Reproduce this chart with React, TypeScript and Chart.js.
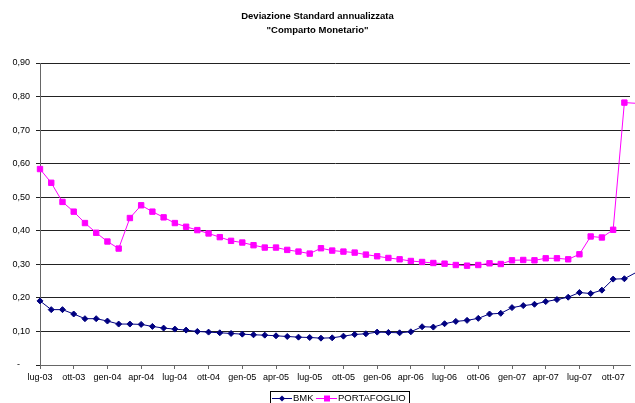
import React, { useEffect, useRef } from "react";
import { Chart, registerables } from "chart.js";

Chart.register(...registerables);

const categories = [
  "lug-03", "ago-03", "set-03", "ott-03", "nov-03", "dic-03",
  "gen-04", "feb-04", "mar-04", "apr-04", "mag-04", "giu-04",
  "lug-04", "ago-04", "set-04", "ott-04", "nov-04", "dic-04",
  "gen-05", "feb-05", "mar-05", "apr-05", "mag-05", "giu-05",
  "lug-05", "ago-05", "set-05", "ott-05", "nov-05", "dic-05",
  "gen-06", "feb-06", "mar-06", "apr-06", "mag-06", "giu-06",
  "lug-06", "ago-06", "set-06", "ott-06", "nov-06", "dic-06",
  "gen-07", "feb-07", "mar-07", "apr-07", "mag-07", "giu-07",
  "lug-07", "ago-07", "set-07", "ott-07", "nov-07", "dic-07",
];

const tickLabels = [
  "lug-03", "ott-03", "gen-04", "apr-04", "lug-04", "ott-04",
  "gen-05", "apr-05", "lug-05", "ott-05", "gen-06", "apr-06",
  "lug-06", "ott-06", "gen-07", "apr-07", "lug-07", "ott-07",
];

const bmk = [
  0.191, 0.165, 0.165, 0.152, 0.138, 0.138, 0.131, 0.122, 0.122, 0.121,
  0.115, 0.110, 0.107, 0.104, 0.100, 0.098, 0.096, 0.094, 0.092, 0.090,
  0.089, 0.087, 0.085, 0.083, 0.082, 0.080, 0.081, 0.086, 0.091, 0.093,
  0.098, 0.097, 0.096, 0.099, 0.114, 0.113, 0.123, 0.130, 0.133, 0.139,
  0.152, 0.154, 0.171, 0.177, 0.181, 0.189, 0.195, 0.202, 0.216, 0.213,
  0.223, 0.256, 0.257, 0.275,
];

const portafoglio = [
  0.584, 0.543, 0.486, 0.457, 0.423, 0.394, 0.368, 0.347, 0.438, 0.476,
  0.457, 0.440, 0.423, 0.412, 0.402, 0.392, 0.381, 0.370, 0.365, 0.357,
  0.350, 0.350, 0.343, 0.338, 0.332, 0.348, 0.341, 0.338, 0.335, 0.329,
  0.324, 0.319, 0.315, 0.310, 0.307, 0.304, 0.302, 0.298, 0.296, 0.298,
  0.303, 0.301, 0.312, 0.313, 0.312, 0.318, 0.318, 0.315, 0.330, 0.383,
  0.380, 0.403, 0.782, 0.780,
];

const titleLines = ["Deviazione Standard annualizzata", '"Comparto Monetario"'];
const seriesNames = ["BMK", "PORTAFOGLIO"];

const FONT = "'Liberation Sans', Arial, sans-serif";
const NAVY = "#000080";
const MAGENTA = "#FF00FF";

const legendPlugin = {
  id: "boxLegend",
  afterDraw(chart: any) {
    const ctx = chart.ctx;
    ctx.save();
    const bx = 270.5, by = 391.5, bw = 139, bh = 15;
    ctx.strokeStyle = "#000";
    ctx.lineWidth = 1;
    ctx.strokeRect(bx, by, bw, bh);
    const cy = 398.5;
    // BMK
    ctx.strokeStyle = NAVY;
    ctx.beginPath();
    ctx.moveTo(272, cy);
    ctx.lineTo(292, cy);
    ctx.stroke();
    ctx.fillStyle = NAVY;
    ctx.beginPath();
    ctx.moveTo(282, cy - 3);
    ctx.lineTo(285, cy);
    ctx.lineTo(282, cy + 3);
    ctx.lineTo(279, cy);
    ctx.closePath();
    ctx.fill();
    // PORTAFOGLIO
    ctx.strokeStyle = MAGENTA;
    ctx.beginPath();
    ctx.moveTo(316, cy);
    ctx.lineTo(337, cy);
    ctx.stroke();
    ctx.fillStyle = MAGENTA;
    ctx.fillRect(324, cy - 3, 6, 6);
    ctx.fillStyle = "#000";
    ctx.font = `9.5px ${FONT}`;
    ctx.textBaseline = "middle";
    ctx.textAlign = "left";
    ctx.fillText(seriesNames[0], 293, cy);
    ctx.fillText(seriesNames[1], 338, cy);
    ctx.restore();
  },
};

export default function App() {
  const ref = useRef<HTMLCanvasElement | null>(null);

  useEffect(() => {
    document.body.style.margin = "0";
    const canvas = ref.current;
    if (!canvas) return;
    const chart = new Chart(canvas, {
      type: "line",
      data: {
        datasets: [
          {
            label: seriesNames[0],
            data: bmk.map((v, i) => ({ x: i, y: v })),
            borderColor: NAVY,
            backgroundColor: NAVY,
            borderWidth: 1,
            pointStyle: "rectRot",
            pointRadius: 3,
            pointBorderWidth: 1,
            tension: 0,
            clip: false as any,
          },
          {
            label: seriesNames[1],
            data: portafoglio.map((v, i) => ({ x: i, y: v })),
            borderColor: MAGENTA,
            backgroundColor: MAGENTA,
            borderWidth: 1,
            pointStyle: "rect",
            pointRadius: 3.8,
            pointBorderWidth: 1,
            tension: 0,
            clip: false as any,
          },
        ],
      },
      options: {
        animation: false,
        responsive: true,
        maintainAspectRatio: false,
        layout: { padding: { top: 0, left: 0, right: 0, bottom: 0 } },
        plugins: {
          legend: { display: false },
          tooltip: { enabled: false },
          title: {
            display: true,
            text: titleLines,
            color: "#000",
            font: { family: FONT, size: 9.5, weight: "bold", lineHeight: 14 / 9.5 },
            padding: { top: 9, bottom: 26 },
          },
        },
        scales: {
          x: {
            type: "linear",
            min: 0,
            max: 52.5,
            afterBuildTicks: (scale: any) => {
              scale.ticks = tickLabels.map((_, i) => ({ value: i * 3 }));
            },
            afterFit: (scale: any) => {
              scale.height = 38;
            },
            ticks: {
              autoSkip: false,
              maxRotation: 0,
              color: "#000",
              padding: 3,
              font: { family: FONT, size: 9 },
              callback: (v: any) => tickLabels[Math.round(Number(v) / 3)] ?? "",
            },
            grid: {
              display: true,
              drawOnChartArea: false,
              drawTicks: true,
              tickLength: 4,
              color: "#666",
            },
            border: { display: true, color: "#666", width: 1 },
          },
          y: {
            type: "linear",
            min: 0,
            max: 0.9,
            afterFit: (scale: any) => {
              scale.width = 40;
            },
            ticks: {
              stepSize: 0.1,
              color: "#000",
              padding: 6,
              font: { family: FONT, size: 9 },
              callback: (v: any) => {
                const n = Number(v);
                if (Math.abs(n) < 1e-9) return "-    ";
                return n.toFixed(2).replace(".", ",");
              },
            },
            grid: {
              color: "#222",
              lineWidth: 1,
              drawTicks: true,
              tickLength: 4,
            },
            border: { display: true, color: "#666", width: 1 },
          },
        },
      },
      plugins: [legendPlugin],
    });
    return () => chart.destroy();
  }, []);

  return (
    <div style={{ width: 635, height: 403, position: "relative", background: "#fff" }}>
      <canvas ref={ref} />
    </div>
  );
}
